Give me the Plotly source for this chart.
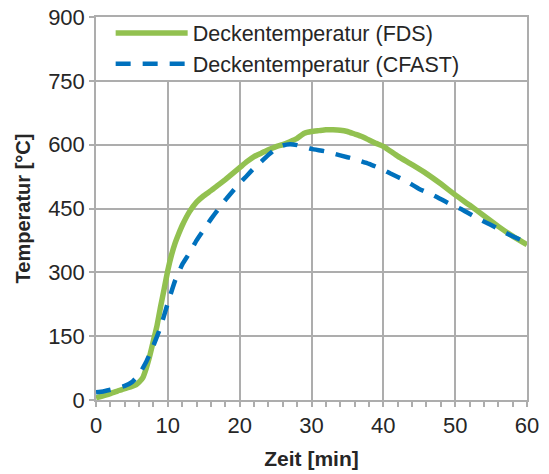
import plotly.graph_objects as go

# Ceiling temperature over time, two simulation models
time_fds = [0, 1, 2, 3, 4, 5, 5.6, 6, 6.5, 7, 7.5, 8, 8.5, 9, 9.5, 10, 10.5, 11, 11.5, 12,
            13, 14, 15, 16, 17, 18, 19, 20, 21, 22, 23, 24, 25, 26, 27, 28, 29, 30, 31,
            32, 33, 34, 35, 36, 37, 38, 39, 40, 42, 44, 46, 48, 50, 52, 54, 56, 58, 60]
temp_fds = [5, 10, 15, 21, 27, 32, 36, 42, 52, 75, 105, 140, 175, 220, 262, 305, 340, 368, 390, 410,
            442, 465, 480, 492, 505, 518, 532, 546, 560, 572, 580, 588, 595, 600, 607, 615, 627, 631, 633,
            635, 635, 634, 631, 625, 619, 611, 603, 596, 573, 553, 532, 508, 482, 458, 433, 408, 385, 365]

time_cfast = [0, 1, 2, 3, 4, 5, 6, 7, 8, 9, 10, 11, 12, 13, 14, 15, 16, 17, 18, 19, 20,
              21, 22, 23, 24, 25, 26, 27, 28, 29, 30, 32, 34, 36, 38, 40, 41, 43, 45, 47,
              49, 51, 53, 55, 57, 59, 60]
temp_cfast = [18, 20, 24, 28, 33, 42, 60, 90, 128, 172, 228, 280, 318, 345, 375, 400, 425, 448, 470, 490, 510,
              527, 545, 560, 576, 590, 598, 601, 599, 595, 590, 584, 575, 566, 555, 541, 532, 516, 496, 481,
              463, 447, 428, 411, 393, 377, 370]

x_ticks = [0, 10, 20, 30, 40, 50, 60]
y_ticks = [0, 150, 300, 450, 600, 750, 900]

names = ["Deckentemperatur (FDS)", "Deckentemperatur (CFAST)"]
green = "#92C150"
blue = "#0071BD"
grid = "#ADADAD"
text = "#262626"
font_family = "Liberation Sans, Arial, sans-serif"

fig = go.Figure()
fig.add_trace(go.Scatter(
    x=time_fds, y=temp_fds, mode="lines", name=names[0],
    line=dict(color=green, width=5.5, shape="spline", smoothing=0.4),
))
fig.add_trace(go.Scatter(
    x=time_cfast, y=temp_cfast, mode="lines", name=names[1],
    line=dict(color=blue, width=4.5, dash="15px,12px", shape="spline", smoothing=0.4),
))

# White box behind the legend, hiding the grid above 750
fig.add_shape(type="rect", xref="x", yref="y", x0=0, x1=60, y0=752, y1=900,
              fillcolor="white", line=dict(width=0), layer="between")

fig.update_layout(
    width=549, height=474,
    margin=dict(l=96, r=22, t=15, b=74),
    paper_bgcolor="white", plot_bgcolor="white",
    font=dict(family=font_family, size=22, color=text),
    showlegend=True,
    legend=dict(
        x=0.034, y=1.012, xanchor="left", yanchor="top",
        bgcolor="rgba(0,0,0,0)", borderwidth=0,
        font=dict(size=21.5, color=text),
        itemwidth=72, tracegroupgap=0,
    ),
    xaxis=dict(
        range=[0, 60], tickvals=x_ticks, ticktext=[str(v) for v in x_ticks],
        showgrid=True, gridcolor=grid, gridwidth=1.5,
        showline=True, linecolor=grid, linewidth=1.5, mirror=True,
        ticks="outside", ticklen=5, tickcolor=grid, tickwidth=1.5,
        minor=dict(dtick=2, ticks="outside", ticklen=5, tickcolor=grid, tickwidth=1.5, showgrid=False),
        zeroline=False, automargin=False,
        title=dict(text="<b>Zeit [min]</b>", font=dict(size=21, color=text), standoff=14),
        tickfont=dict(size=22, color=text),
    ),
    yaxis=dict(
        range=[0, 900], tickvals=y_ticks, ticktext=[str(v) for v in y_ticks],
        showgrid=True, gridcolor=grid, gridwidth=1.5,
        showline=True, linecolor=grid, linewidth=1.5, mirror=True,
        ticks="outside", ticklen=5, tickcolor=grid, tickwidth=1.5,
        zeroline=False, automargin=False,
        title=dict(text="<b>Temperatur [°C]</b>", font=dict(size=20, color=text), standoff=12),
        tickfont=dict(size=22, color=text),
    ),
)

fig.write_html("out.html")
